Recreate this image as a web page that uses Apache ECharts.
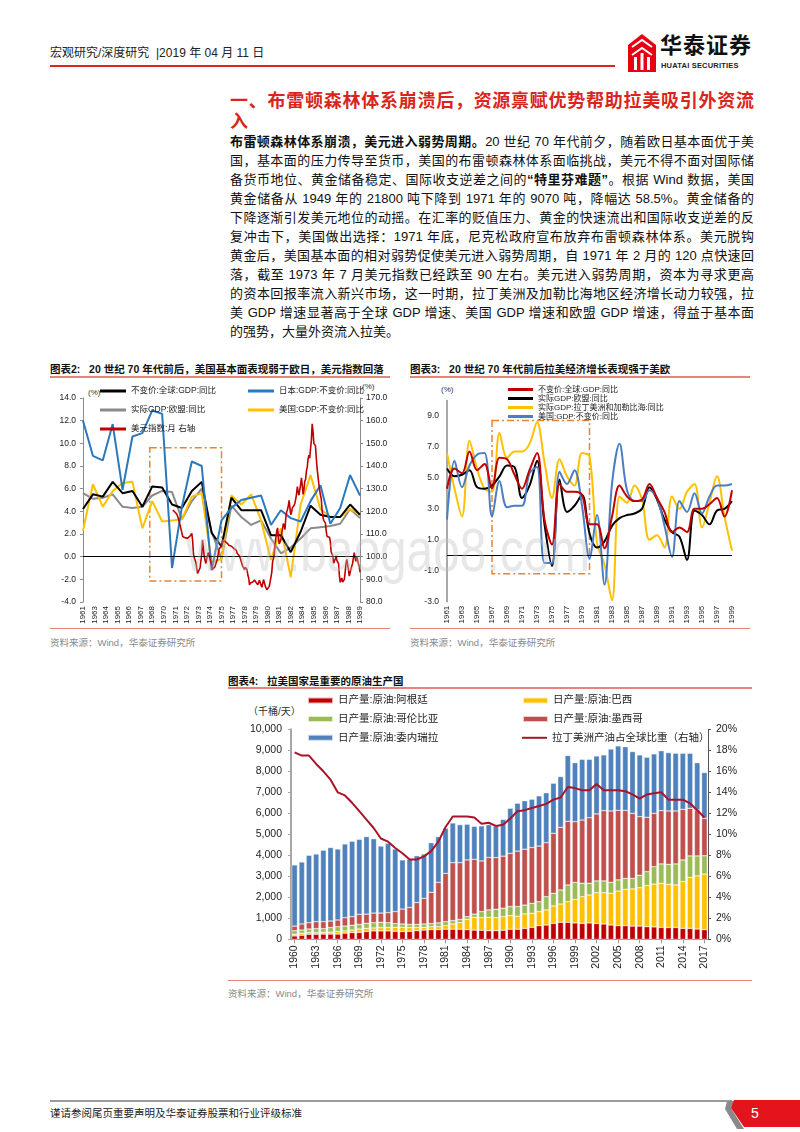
<!DOCTYPE html>
<html><head><meta charset="utf-8">
<script src="https://cdn.jsdelivr.net/npm/echarts/dist/echarts.min.js"></script>
<style>
html,body{margin:0;padding:0;background:#fff;}
#page{position:relative;width:800px;height:1132px;overflow:hidden;font-family:"Liberation Sans","Noto Sans CJK SC",sans-serif;color:#111;}
.abs{position:absolute;white-space:nowrap;}
.chartlayer{position:absolute;left:0;top:0;width:800px;height:1132px;pointer-events:none;}
.pline{height:19px;line-height:19px;white-space:nowrap;text-align:justify;text-align-last:justify;}
.ctitle{font-size:10.5px;font-weight:bold;color:#111;}
.src{font-size:9.5px;color:#8a8a8a;}
.uline{position:absolute;height:1.5px;background:#E8827D;}
</style></head>
<body><div id="page">

<!-- header -->
<div class="abs" style="left:50px;top:45px;font-size:12px;line-height:16px;color:#222;">宏观研究/深度研究 &nbsp;|2019 年 04 月 11 日</div>
<div class="abs" style="left:50px;top:65px;width:565px;height:2px;background:#E2231A;"></div>
<svg class="abs" style="left:628px;top:34px;" width="28" height="38" viewBox="0 0 28 38">
  <polygon points="14,0 28,11 28,38 0,38 0,11" fill="#E60012"/>
  <polyline points="4,13 14,6 24,13" fill="none" stroke="#fff" stroke-width="2"/>
  <polyline points="4,21 14,14 24,21" fill="none" stroke="#fff" stroke-width="2"/>
  <rect x="6" y="23" width="3" height="13" fill="#fff"/>
  <rect x="12.5" y="19" width="3" height="17" fill="#fff"/>
  <rect x="19" y="23" width="3" height="13" fill="#fff"/>
</svg>
<div class="abs" style="left:660px;top:33px;font-size:22px;font-weight:bold;line-height:26px;letter-spacing:1px;color:#111;">华泰证券</div>
<div class="abs" style="left:661px;top:61px;font-size:7.5px;font-weight:bold;line-height:9px;letter-spacing:0.2px;color:#222;">HUATAI SECURITIES</div>

<!-- section title -->
<div class="abs pline" style="left:230px;top:88.5px;width:524px;height:25px;line-height:25px;font-size:18px;font-weight:bold;color:#DA251D;">一、布雷顿森林体系崩溃后，资源禀赋优势帮助拉美吸引外资流</div>
<div class="abs" style="left:230px;top:109.5px;line-height:25px;font-size:18px;font-weight:bold;color:#DA251D;">入</div>

<!-- paragraph -->
<div class="abs" style="left:230px;top:131.5px;width:524px;font-size:13px;color:#111;white-space:normal;">
<div class="pline"><b>布雷顿森林体系崩溃，美元进入弱势周期。</b>20 世纪 70 年代前夕，随着欧日基本面优于美</div>
<div class="pline">国，基本面的压力传导至货币，美国的布雷顿森林体系面临挑战，美元不得不面对国际储</div>
<div class="pline">备货币地位、黄金储备稳定、国际收支逆差之间的<b>“特里芬难题”</b>。根据 Wind 数据，美国</div>
<div class="pline">黄金储备从 1949 年的 21800 吨下降到 1971 年的 9070 吨，降幅达 58.5%。黄金储备的</div>
<div class="pline">下降逐渐引发美元地位的动摇。在汇率的贬值压力、黄金的快速流出和国际收支逆差的反</div>
<div class="pline">复冲击下，美国做出选择：1971 年底，尼克松政府宣布放弃布雷顿森林体系。美元脱钩</div>
<div class="pline">黄金后，美国基本面的相对弱势促使美元进入弱势周期，自 1971 年 2 月的 120 点快速回</div>
<div class="pline">落，截至 1973 年 7 月美元指数已经跌至 90 左右。美元进入弱势周期，资本为寻求更高</div>
<div class="pline">的资本回报率流入新兴市场，这一时期，拉丁美洲及加勒比海地区经济增长动力较强，拉</div>
<div class="pline">美 GDP 增速显著高于全球 GDP 增速、美国 GDP 增速和欧盟 GDP 增速，得益于基本面</div>
<div class="pline" style="text-align:left;text-align-last:left;">的强势，大量外资流入拉美。</div>
</div>

<!-- chart titles / sources -->
<div class="abs ctitle" style="left:50px;top:361px;">图表2:&nbsp;&nbsp; 20 世纪 70 年代前后，美国基本面表现弱于欧日，美元指数回落</div>
<div class="uline" style="left:50px;top:376px;width:340px;"></div>
<div class="abs ctitle" style="left:410px;top:361px;">图表3:&nbsp;&nbsp; 20 世纪 70 年代前后拉美经济增长表现强于美欧</div>
<div class="uline" style="left:410px;top:376px;width:340px;"></div>
<div class="uline" style="left:50px;top:628px;width:340px;height:1px;"></div>
<div class="abs src" style="left:50px;top:635px;">资料来源：Wind，华泰证券研究所</div>
<div class="uline" style="left:410px;top:628px;width:340px;height:1px;"></div>
<div class="abs src" style="left:410px;top:635px;">资料来源：Wind，华泰证券研究所</div>

<div class="abs" style="left:88px;top:388px;font-size:8px;color:#333;">(%)</div>
<div class="abs" style="left:362px;top:382px;font-size:8px;color:#333;">(%)</div>
<div class="abs" style="left:441px;top:385px;font-size:8px;color:#333;">(%)</div>

<div class="abs ctitle" style="left:228px;top:673px;">图表4:&nbsp;&nbsp; 拉美国家是重要的原油生产国</div>
<div class="uline" style="left:228px;top:687px;width:524px;"></div>
<div class="abs" style="left:248px;top:703px;font-size:10px;color:#333;">（千桶/天）</div>
<div class="uline" style="left:228px;top:980px;width:524px;height:1px;"></div>
<div class="abs src" style="left:228px;top:986px;">资料来源：Wind，华泰证券研究所</div>

<!-- footer -->
<div class="abs" style="left:50px;top:1100px;width:682px;height:2px;background:#9a9a9a;"></div>
<svg class="abs" style="left:0;top:0;" width="800" height="1132">
  <polygon points="727,1101 735,1101 731,1108 744,1129 737,1129 725,1109" fill="#8a8a8a"/>
  <polygon points="734,1100 800,1100 800,1127 744,1127 731,1108" fill="#E3141B"/>
</svg>
<div class="abs" style="left:751px;top:1105px;font-size:14px;line-height:16px;color:#fff;">5</div>
<div class="abs" style="left:50px;top:1106px;font-size:10.5px;line-height:14px;color:#222;">谨请参阅尾页重要声明及华泰证券股票和行业评级标准</div>

<div id="c2" class="chartlayer"></div>
<div id="c3" class="chartlayer"></div>
<div id="c4" class="chartlayer"></div>

<svg class="abs" style="left:0;top:0;pointer-events:none;" width="800" height="1132">
  <text x="186" y="571" textLength="404" lengthAdjust="spacingAndGlyphs" font-family="Liberation Sans" font-size="62" fill="#bfbfbf" fill-opacity="0.38">www.baogao8.com</text>
</svg>

</div>
<script>
// ===== Chart 2 data (annual GDP yoy %, 1961-1989) =====
const years2 = [1961,1962,1963,1964,1965,1966,1967,1968,1969,1970,1971,1972,1973,1974,1975,1976,1977,1978,1979,1980,1981,1982,1983,1984,1985,1986,1987,1988,1989];
const global2 = [4.2,5.5,5.3,6.6,5.6,5.8,4.4,6.2,6.1,4.6,4.3,5.8,6.6,2.1,0.9,5.2,4.1,4.1,4.1,1.9,1.9,0.4,2.2,4.5,3.7,3.5,3.5,4.6,3.7];
const japan2  = [12.0,8.9,8.5,11.7,5.9,10.6,10.9,12.9,12.6,-1.0,4.4,8.4,8.0,-1.2,3.2,4.3,5.0,5.2,5.4,2.8,4.1,3.4,3.1,4.9,6.3,2.9,4.3,7.2,5.4];
const eu2     = [5.6,5.1,5.2,5.5,4.4,4.3,4.4,5.4,5.8,5.7,3.3,4.9,6.0,2.2,-0.2,4.5,3.5,2.8,3.2,1.6,0.3,0.8,1.6,2.5,2.6,2.7,2.9,4.2,3.4];
const us2     = [2.3,6.4,4.4,5.8,6.5,6.6,2.5,4.9,3.1,3.2,3.3,5.3,5.6,-0.5,-0.2,5.4,4.6,5.5,3.2,-0.3,2.5,-1.8,4.6,7.2,4.2,3.5,3.5,4.2,3.7];
// US dollar index, monthly, 1971-01 .. 1989-12
const dxyStart = '1971-01';
const dxy = [
 120.5,120.2,119.8,119.5,118.9,118.6,118.2,116.5,114.8,113.6,112.9,110.4,
 108.9,108.1,108.5,108.3,108.0,108.6,108.2,108.4,108.7,109.2,109.6,110.3,
 107.0,101.2,99.5,99.0,97.3,94.8,92.6,93.5,94.1,95.0,98.2,100.9,
 107.3,104.1,100.2,98.5,97.0,98.9,100.6,101.8,101.3,98.9,97.6,96.2,
 94.3,93.8,94.5,95.6,95.1,95.6,99.0,101.2,103.4,103.8,104.3,105.5,
 106.8,107.4,107.1,106.9,106.5,106.2,105.9,105.6,105.0,105.3,105.1,104.6,
 104.2,104.0,103.6,103.4,103.1,102.8,101.5,101.8,101.6,100.2,99.1,97.9,
 96.5,95.6,94.9,94.3,95.3,95.0,94.2,91.8,90.6,87.5,88.4,88.9,
 88.4,88.8,89.1,89.7,89.3,88.6,87.9,87.6,87.2,89.6,89.0,87.4,
 86.5,87.2,89.9,89.4,87.1,86.3,85.4,85.8,85.3,86.9,89.0,91.0,
 93.2,97.8,97.0,100.6,105.9,108.5,111.3,112.7,109.2,105.6,105.0,107.4,
 110.5,112.3,114.6,113.6,112.0,117.1,119.8,120.7,122.4,124.8,121.5,118.5,
 119.6,121.6,121.5,122.6,123.6,125.4,127.5,130.9,128.5,127.1,129.6,132.0,
 134.8,131.2,127.5,129.6,133.2,134.1,137.8,139.5,143.1,144.8,143.5,147.6,
 151.4,158.6,155.4,150.0,149.9,148.9,143.4,138.7,138.5,132.3,129.6,127.2,
 125.6,120.5,117.6,115.9,116.7,114.9,111.4,108.9,108.3,108.1,108.6,106.7,
 102.2,101.5,100.3,97.1,97.5,99.0,100.3,98.3,97.5,96.9,91.6,88.7,
 89.7,90.6,88.8,89.2,90.0,93.2,97.0,98.8,98.4,94.3,91.4,91.2,
 94.5,95.3,97.0,96.4,101.8,101.7,97.9,100.2,100.4,96.9,95.9,93.2
];
// ===== Chart 3 data (annual GDP yoy %, 1961-1999) =====
const years3 = [];
for (let y = 1961; y <= 1999; y++) years3.push(String(y));
const global3 = [4.3,5.6,5.3,6.7,5.5,5.9,4.3,6.3,6.2,5.2,4.3,5.5,6.6,2.3,0.7,4.6,4.1,4.1,3.9,2.0,2.0,0.45,2.5,4.5,3.8,3.5,3.6,4.6,3.7,2.8,1.5,1.8,1.5,3.0,3.0,3.3,3.7,2.5,4.2];
const eu3     = [5.6,5.1,5.2,5.5,4.4,4.3,4.5,5.1,5.8,5.7,3.7,4.5,6.1,2.0,-0.7,4.9,2.8,3.2,3.9,1.4,0.5,0.9,1.9,2.4,2.6,2.7,3.0,4.4,3.6,2.3,1.5,1.2,-0.3,2.9,2.6,2.0,2.9,3.0,3.5];
const latam3  = [6.6,4.3,2.5,7.4,5.6,4.3,4.1,7.9,6.3,6.7,6.7,7.2,8.6,6.0,3.7,6.2,5.1,4.5,6.6,6.4,0.8,-0.6,-2.9,3.8,3.4,4.5,3.6,1.0,1.3,0.5,3.8,3.0,4.1,4.6,1.8,3.4,5.1,2.5,0.3];
const us3     = [2.3,6.1,4.4,5.8,6.5,6.6,2.5,4.8,3.1,3.2,3.2,5.3,5.7,-0.5,-0.5,5.4,4.6,5.5,3.2,-0.2,2.6,-1.9,4.6,7.2,4.2,3.5,3.5,4.2,3.7,1.9,-0.1,3.5,2.8,4.0,2.7,3.8,4.5,4.5,4.6];
// ===== Chart 4 data (thousand barrels/day, 1960-2017) =====
const years4 = [];
for (let y = 1960; y <= 2017; y++) years4.push(String(y));
const argentina = [160,190,240,240,250,250,250,290,320,330,370,400,400,400,380,370,380,410,440,460,460,480,480,480,460,440,430,410,410,430,480,480,520,570,650,680,760,810,810,780,760,780,750,730,680,650,650,630,630,600,590,570,560,560,520,520,490,460];
const brazil    = [80,100,80,80,80,90,120,110,120,160,150,140,160,160,190,200,180,150,130,140,140,170,250,310,490,610,600,640,620,650,650,620,690,670,670,720,830,870,980,1120,1270,1330,1470,1490,1510,1650,1730,1770,1830,1960,2040,2100,2060,2030,2230,2430,2530,2650];
const colombia  = [170,150,170,190,180,220,230,230,230,220,240,250,250,230,180,160,150,150,160,150,180,190,160,160,130,150,290,350,400,400,430,460,420,470,470,630,600,670,800,810,640,560,560,560,520,530,520,500,590,660,830,920,950,1000,1030,1020,950,870];
const mexico    = [220,290,300,330,330,310,320,400,410,480,440,460,440,480,570,710,810,1040,1220,1490,1930,2300,2760,2700,2700,2610,2410,2500,2460,2480,2530,2640,2660,2660,2650,2570,2860,2980,3030,2890,3010,3120,3190,3350,3400,3310,3240,3100,2790,2590,2540,2540,2540,2520,2410,2270,2190,1780];
const venezuela = [2910,2950,3210,3220,3400,3500,3380,3510,3590,3570,3690,3540,3190,3300,2980,2340,2290,2230,2110,2360,2180,2150,1890,1810,1700,1570,1670,1560,1510,1750,2150,2280,2310,2300,2390,2380,2380,2420,3130,2810,2890,2780,2760,2650,2950,3070,3030,2940,2940,2860,2830,2850,2780,2750,2670,2620,2250,2180];
const latamShare = [17.8,17.5,17.5,16.7,16.0,15.2,14.0,13.7,13.0,12.2,11.4,10.6,9.6,9.3,8.7,8.2,7.6,7.6,7.9,8.4,9.3,10.7,11.7,11.7,11.7,11.6,11.0,11.1,10.8,10.9,11.5,12.2,12.3,12.5,12.7,12.9,13.3,13.5,14.5,14.4,14.2,14.2,14.8,14.2,14.2,14.2,14.1,13.8,13.4,13.8,13.9,14.0,13.3,13.3,13.3,12.95,12.3,11.6];

// ===== build chart 2 tables =====
const months2 = [];
for (let y = 1961; y <= 1989; y++) for (let m = 1; m <= 12; m++) {
  if (y === 1961 && m < 12) continue;
  months2.push(y + '-' + String(m).padStart(2, '0'));
}
function toMonthly(arr) {
  const d = new Array(months2.length).fill(null);
  arr.forEach((v, i) => { d[months2.indexOf(years2[i] + '-12')] = v; });
  return d;
}
const dxyM = new Array(months2.length).fill(null);
const s0 = months2.indexOf(dxyStart);
dxy.forEach((v, i) => { dxyM[s0 + i] = v; });

const FF = '"Liberation Sans","Noto Sans CJK SC",sans-serif';
function leg(name, x, y, fs, iw, ih) {
  return { data: [name], left: x, top: y - 6, padding: 0, itemWidth: iw, itemHeight: ih, icon: 'rect',
    selectedMode: false, textStyle: { fontSize: fs, color: '#222', fontFamily: FF, lineHeight: 12 } };
}
function lineS(name, data, color, w, yi, extra) {
  return Object.assign({ name, type: 'line', data, yAxisIndex: yi || 0, symbol: 'none', connectNulls: true,
    lineStyle: { color, width: w }, itemStyle: { color } }, extra || {});
}
const gray = '#8c8c8c';

// ===== Chart 2 =====
const c2 = echarts.init(document.getElementById('c2'), null, { renderer: 'canvas' });
c2.setOption({
  animation: false, backgroundColor: 'transparent',
  grid: { left: 83, top: 398, width: 277, height: 204 },
  legend: [
    leg('不变价:全球:GDP:同比', 100, 391, 8.5, 26, 3),
    leg('日本:GDP:不变价:同比', 248, 391, 8.5, 26, 3),
    leg('实际GDP:欧盟:同比', 100, 410, 8.5, 26, 3),
    leg('美国:GDP:不变价:同比', 248, 410, 8.5, 26, 3),
    leg('美元指数:月 右轴', 100, 429, 8.5, 26, 3)
  ],
  xAxis: { type: 'category', data: months2, boundaryGap: false,
    axisLine: { show: false }, axisTick: { show: false },
    axisLabel: { interval: 13, rotate: 90, fontSize: 8, color: '#222', fontFamily: FF, margin: 4,
      formatter: v => v.slice(0, 4) } },
  yAxis: [
    { type: 'value', min: -4, max: 14, interval: 2, splitLine: { show: false },
      axisLine: { show: true, lineStyle: { color: gray } }, axisTick: { show: true, length: 3, lineStyle: { color: gray } },
      axisLabel: { fontSize: 8.5, color: '#222', fontFamily: FF, margin: 7, formatter: v => v.toFixed(1) } },
    { type: 'value', position: 'right', min: 80, max: 170, interval: 10, splitLine: { show: false },
      axisLine: { show: true, lineStyle: { color: gray } }, axisTick: { show: true, length: 3, lineStyle: { color: gray } },
      axisLabel: { fontSize: 8.5, color: '#222', fontFamily: FF, margin: 6, formatter: v => v.toFixed(1) } }
  ],
  series: [
    lineS('实际GDP:欧盟:同比', toMonthly(eu2), '#8a8a8a', 2, 0, {
      markLine: { silent: true, symbol: ['none', 'none'], label: { show: false },
        lineStyle: { color: '#000', width: 1, type: 'solid' }, data: [{ yAxis: 0 }] },
      markArea: { silent: true, itemStyle: { color: 'rgba(0,0,0,0)', borderColor: '#EA8430', borderWidth: 1.5, borderType: [7, 3, 2, 3] },
        data: [[{ xAxis: '1968-09', yAxis: 9.6 }, { xAxis: '1975-12', yAxis: -2.15 }]] } }),
    lineS('美国:GDP:不变价:同比', toMonthly(us2), '#FFC000', 2),
    lineS('不变价:全球:GDP:同比', toMonthly(global2), '#000000', 2),
    lineS('日本:GDP:不变价:同比', toMonthly(japan2), '#2A78BE', 2),
    lineS('美元指数:月 右轴', dxyM, '#C00000', 1.6, 1)
  ]
});

// ===== Chart 3 =====
const c3 = echarts.init(document.getElementById('c3'), null, { renderer: 'canvas' });
const sm = 0.35;
c3.setOption({
  animation: false, backgroundColor: 'transparent',
  grid: { left: 447, top: 400.5, width: 285, height: 201.2 },
  legend: [
    leg('不变价:全球:GDP:同比', 508, 389.5, 8, 25, 3),
    leg('实际GDP:欧盟:同比', 508, 398.5, 8, 25, 3),
    leg('实际GDP:拉丁美洲和加勒比海:同比', 508, 407.5, 8, 25, 3),
    leg('美国:GDP:不变价:同比', 508, 416.5, 8, 25, 3)
  ],
  xAxis: { type: 'category', data: years3, boundaryGap: false,
    axisLine: { show: false }, axisTick: { show: false },
    axisLabel: { interval: 1, rotate: 90, fontSize: 8, color: '#222', fontFamily: FF, margin: 4 } },
  yAxis: { type: 'value', min: -3, max: 10, interval: 2, splitLine: { show: false },
    axisLine: { show: true, lineStyle: { color: gray, width: 1.5 } }, axisTick: { show: false },
    axisLabel: { fontSize: 8.5, color: '#222', fontFamily: FF, margin: 8, showMaxLabel: false, formatter: v => v.toFixed(1) } },
  series: [
    lineS('实际GDP:拉丁美洲和加勒比海:同比', latam3, '#FFC000', 2, 0, { smooth: sm,
      markLine: { silent: true, symbol: ['none', 'none'], label: { show: false },
        lineStyle: { color: '#000', width: 1, type: 'solid' }, data: [{ yAxis: 0 }] },
      markArea: { silent: true, itemStyle: { color: 'rgba(0,0,0,0)', borderColor: '#EA8430', borderWidth: 1.5, borderType: [7, 3, 2, 3] },
        data: [[{ xAxis: '1967', yAxis: 8.7 }, { xAxis: '1980', yAxis: -1.2 }]] } }),
    lineS('实际GDP:欧盟:同比', eu3, '#000000', 2, 0, { smooth: sm }),
    lineS('美国:GDP:不变价:同比', us3, '#4A7EC4', 2, 0, { smooth: sm }),
    lineS('不变价:全球:GDP:同比', global3, '#C00000', 2, 0, { smooth: sm })
  ]
});

// ===== Chart 4 =====
const c4 = echarts.init(document.getElementById('c4'), null, { renderer: 'canvas' });
function barS(name, data, color) {
  return { name, type: 'bar', stack: 'oil', data, barCategoryGap: '22%',
    itemStyle: { color, borderColor: 'rgba(255,255,255,0.7)', borderWidth: 0.5 } };
}
c4.setOption({
  animation: false, backgroundColor: 'transparent',
  grid: { left: 291, top: 729.3, width: 417, height: 210 },
  legend: [
    leg('日产量:原油:阿根廷', 307, 700.5, 10.5, 25, 6),
    leg('日产量:原油:哥伦比亚', 307, 719, 10.5, 25, 6),
    leg('日产量:原油:委内瑞拉', 307, 737.8, 10.5, 25, 6),
    leg('日产量:原油:巴西', 522, 700.5, 10.5, 25, 6),
    leg('日产量:原油:墨西哥', 522, 719, 10.5, 25, 6),
    leg('拉丁美洲产油占全球比重（右轴）', 522, 737.8, 10.5, 25, 2)
  ],
  xAxis: { type: 'category', data: years4, boundaryGap: true,
    axisLine: { show: true, lineStyle: { color: '#9a9a9a' } },
    axisTick: { show: true, interval: 2, alignWithLabel: true, length: 4, lineStyle: { color: '#9a9a9a' } },
    axisLabel: { interval: 2, rotate: 90, fontSize: 10.5, color: '#222', fontFamily: FF, margin: 6 } },
  yAxis: [
    { type: 'value', min: 0, max: 10000, interval: 1000, splitLine: { show: false },
      axisLine: { show: true, lineStyle: { color: '#a6a6a6', width: 2 } }, axisTick: { show: true, length: 3, lineStyle: { color: '#a6a6a6' } },
      axisLabel: { fontSize: 10.5, color: '#222', fontFamily: FF, margin: 9, formatter: v => v.toLocaleString('en-US') } },
    { type: 'value', position: 'right', min: 0, max: 0.2, interval: 0.02, splitLine: { show: false },
      axisLine: { show: true, lineStyle: { color: '#555' } }, axisTick: { show: true, length: 3, lineStyle: { color: '#555' } },
      axisLabel: { fontSize: 10.5, color: '#222', fontFamily: FF, margin: 8, formatter: v => Math.round(v * 100) + '%' } }
  ],
  series: [
    barS('日产量:原油:阿根廷', argentina, '#C00000'),
    barS('日产量:原油:巴西', brazil, '#FFC000'),
    barS('日产量:原油:哥伦比亚', colombia, '#9BBB59'),
    barS('日产量:原油:墨西哥', mexico, '#C0504D'),
    barS('日产量:原油:委内瑞拉', venezuela, '#4F81BD'),
    { name: '拉丁美洲产油占全球比重（右轴）', type: 'line', yAxisIndex: 1, symbol: 'none',
      data: latamShare.map(v => v / 100), lineStyle: { color: '#A8142A', width: 2 }, itemStyle: { color: '#A8142A' } }
  ]
});
</script>
</body></html>
